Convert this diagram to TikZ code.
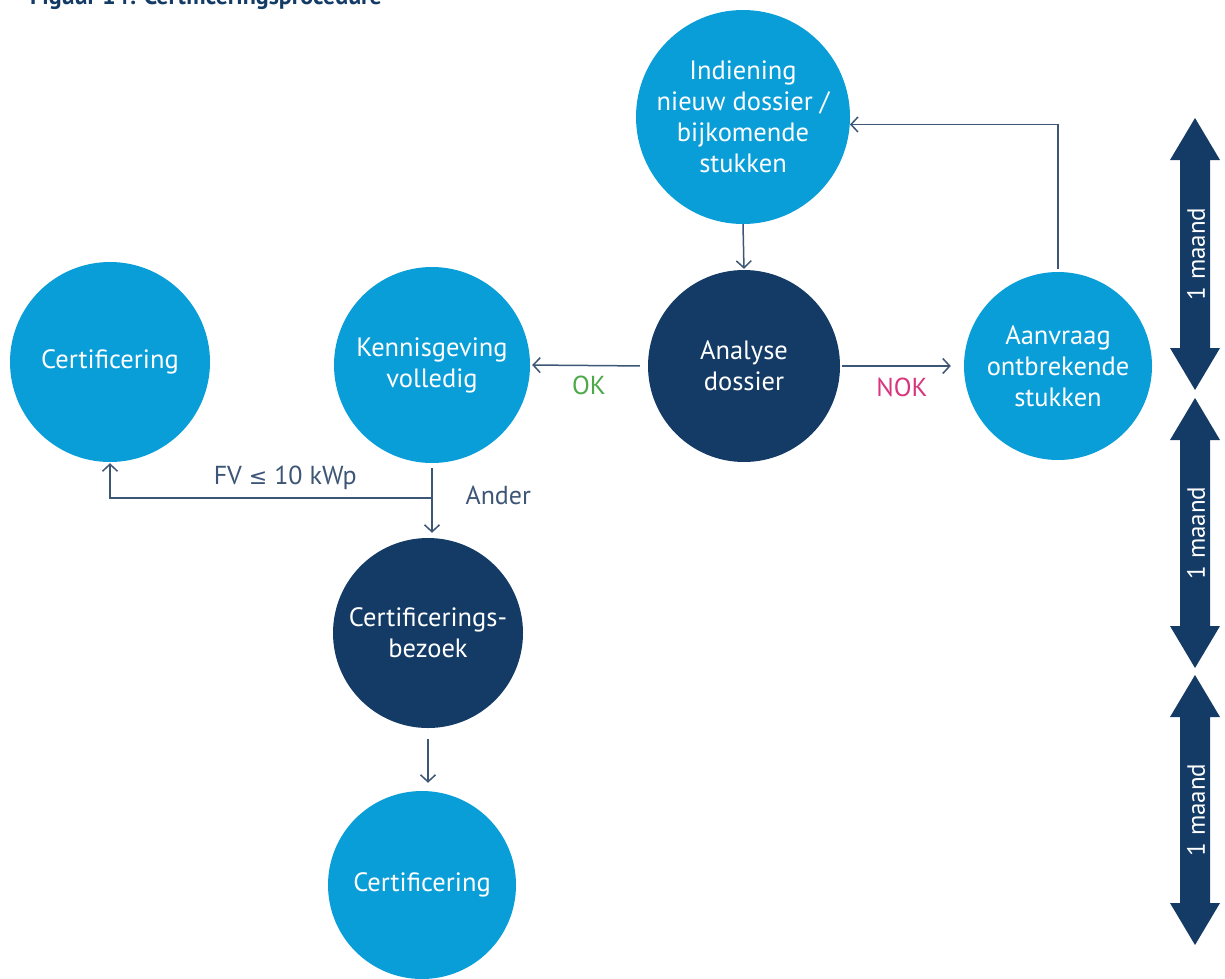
\documentclass[tikz,border=0pt]{standalone}
\usepackage{fontspec}
\setmainfont{PT Sans}
\newfontfamily\symfont{DejaVu Sans}
\usetikzlibrary{arrows.meta,calc}
\definecolor{lblue}{HTML}{0A9ED8}
\definecolor{navy}{HTML}{143B66}
\definecolor{conncol}{HTML}{3E5676}
\definecolor{okcol}{HTML}{4DA84A}
\definecolor{nokcol}{HTML}{D8357F}
\tikzset{
  x=1pt,y=-1pt,
  bubble/.style={circle,inner sep=0pt,align=center,text=white,
    font=\fontsize{26.5}{31}\selectfont},
  lightb/.style={bubble,fill=lblue},
  darkb/.style={bubble,fill=navy},
  conn/.style={draw=conncol,line width=1.5pt,-{Straight Barb[length=7pt,width=15pt,line width=1.5pt]}},
  lbl/.style={font=\fontsize{26}{30}\selectfont,text=conncol},
}
\begin{document}
\begin{tikzpicture}
\useasboundingbox (0,0) rectangle (1225,978);
% title (cut off at the top)
\node[anchor=base west,inner sep=0pt,text=navy,font=\bfseries\fontsize{24}{26}\selectfont] (title) at (30,4) {Figuur 14: Certificeringsprocedure};
% circles
\node[lightb,minimum size=214] (ind) at (743,117) {Indiening\\nieuw dossier /\\bijkomende\\stukken};
\node[darkb,minimum size=192] (ana) at (744,366) {Analyse\\dossier};
\node[lightb,minimum size=188] (aan) at (1058,366) {Aanvraag\\ontbrekende\\stukken};
\node[lightb,minimum size=196] (ken) at (432,365) {Kennisgeving\\volledig};
\node[lightb,minimum size=200] (cl) at (110,362) {Certificering};
\node[darkb,minimum size=190] (cb) at (428,633) {Certificerings-\\bezoek};
\node[lightb,minimum size=188] (cbot) at (422,885) {Certificering};
% connectors
\draw[conn,shorten >=1pt] (ind.south) -- (ana.north);
\draw[conn,shorten <=8pt,shorten >=2pt] (ana.west) -- node[below=6pt,lbl,text=okcol]{OK} (ken.east);
\draw[conn,shorten <=2pt,shorten >=13pt] (ana.east) -- node[below=8pt,lbl,text=nokcol]{NOK} (aan.west);
\draw[conn,shorten <=3pt] (aan.north) |- (ind.-4);
\coordinate (br) at (432,498);
\draw[conn,shorten <=5pt,shorten >=5pt] (ken.south) -- (ken.south |- cb.north);
\draw[conn,shorten >=1pt] (br) -| node[pos=0.228,above=4pt,lbl]{FV {\symfont\fontsize{22}{26}\selectfont≤} 10 kWp} (cl.south);
\node[lbl,anchor=west] (ander) at (462,495) {Ander};
\draw[conn,shorten <=11pt,shorten >=8pt] (cb.south) -- (cb.south |- cbot.north);
% duration arrows
\foreach \a/\b in {118/390,398/668,675/945}{
  \fill[navy] (1195,\a) -- (1220,\a+42) -- (1210,\a+42) -- (1210,\b-42) -- (1220,\b-42)
     -- (1195,\b) -- (1170,\b-42) -- (1180,\b-42) -- (1180,\a+42) -- (1170,\a+42) -- cycle;
  \node[rotate=90,text=white,font=\fontsize{25}{26}\selectfont] at (1196,{(\a+\b)/2}) {1 maand};
}
\end{tikzpicture}
\end{document}
